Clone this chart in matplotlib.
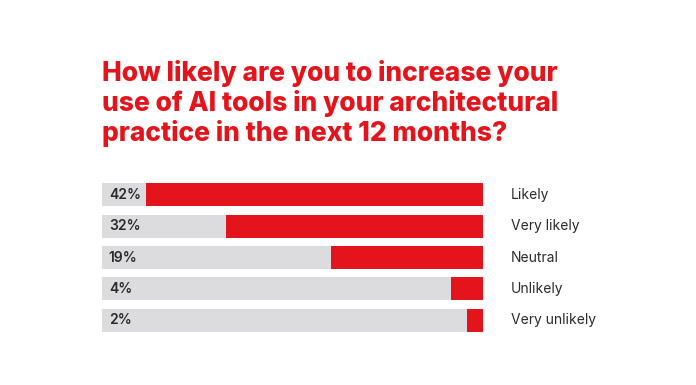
import matplotlib
matplotlib.use('Agg')
import matplotlib.pyplot as plt

# Survey answers (percent of respondents)
answers = ['Likely', 'Very likely', 'Neutral', 'Unlikely', 'Very unlikely']
shares = [42, 32, 19, 4, 2]
scale_max = 47.5  # full grey track

RED = '#E3141B'
GREY = '#DCDCDE'
DARK = '#2B2B2B'

plt.rcParams['font.family'] = ['Inter', 'DejaVu Sans']

fig = plt.figure(figsize=(6.96, 3.85), dpi=100)
fig.patch.set_facecolor('white')

# bars area: x 102..483 px, y 179..336 px
ax = fig.add_axes([102 / 696, 49 / 385, 381 / 696, 157 / 385])
rows = range(len(answers))
ax.barh(rows, [scale_max] * len(answers), height=0.73, color=GREY)
ax.barh(rows, shares, left=[scale_max - s for s in shares], height=0.73, color=RED)
ax.set_xlim(0, scale_max)
ax.set_ylim(len(answers) - 0.5, -0.5)
ax.axis('off')

for i, (name, s) in enumerate(zip(answers, shares)):
    ax.text(0.018 * scale_max, i, f'{s}%', va='center', ha='left',
            fontsize=10, fontweight='semibold', color=DARK)
    ax.text(scale_max * 1.073, i, name, va='center', ha='left',
            fontsize=10, color=DARK)

fig.text(102 / 696, 1 - 141 / 385,
         'How likely are you to increase your\nuse of AI tools in your architectural\npractice in the next 12 months?',
         ha='left', va='baseline', fontsize=19, fontweight='heavy', color=RED,
         linespacing=1.15)

fig.savefig('out.png', dpi=100)
